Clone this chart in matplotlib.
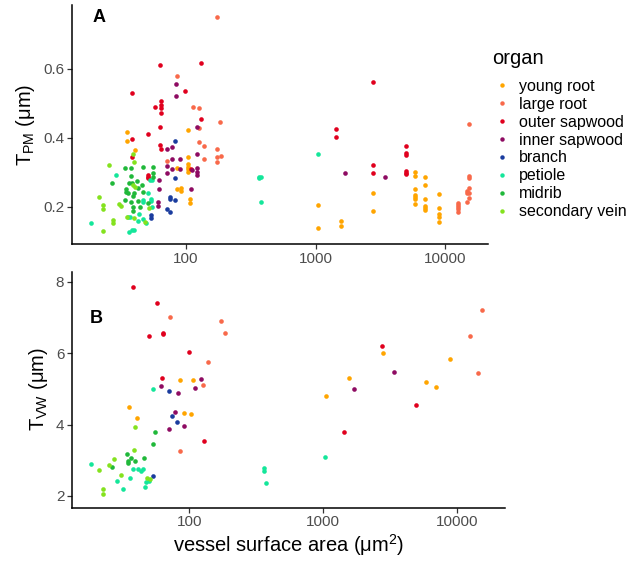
import matplotlib
matplotlib.use("Agg")
import matplotlib.pyplot as plt
from matplotlib.lines import Line2D
import numpy as np

plt.rcParams['font.family'] = ['Liberation Sans', 'DejaVu Sans']
plt.rcParams['mathtext.fontset'] = 'custom'
plt.rcParams['mathtext.rm'] = 'Liberation Sans'
plt.rcParams['mathtext.it'] = 'Liberation Sans:italic'

organs = ["young root", "large root", "outer sapwood", "inner sapwood",
          "branch", "petiole", "midrib", "secondary vein"]
colors = ["#FFA500", "#F8694A", "#E0001E", "#8E0B62",
          "#1A3C9E", "#14E69A", "#20B83A", "#84E21E"]

# ---- Panel A: T_PM (um) vs vessel surface area (um^2) ----
a_young_x = [35.2, 35.2, 40.6, 103.6, 103.6, 103.6, 103.6, 103.6, 103.6, 85.7, 85.7, 92.0, 92.0, 107.4, 107.4,
             1051, 1051, 1574, 1574, 2795, 2795, 5866, 5866, 6966, 6966, 5866, 5866, 5866, 5866, 5866,
             6966, 6966, 6966, 6966, 8932, 8932, 8932, 8932, 8932]
a_young_y = [0.415, 0.389, 0.364, 0.422, 0.345, 0.324, 0.316, 0.308, 0.301, 0.313, 0.251, 0.253, 0.246, 0.221, 0.210,
             0.205, 0.137, 0.158, 0.143, 0.241, 0.188, 0.300, 0.289, 0.285, 0.262, 0.251, 0.234, 0.227, 0.221, 0.207,
             0.222, 0.203, 0.197, 0.190, 0.238, 0.197, 0.178, 0.171, 0.157]

a_large_x = [172.6, 85.7, 112.7, 126.7, 184, 126.7, 126.7, 137.7, 172.6, 172.6, 185, 172.6, 137.7, 71.8,
             15410, 15410, 15410, 15410, 14720, 15410, 14720, 15410, 14720,
             12590, 12590, 12590, 12590, 12590]
a_large_y = [0.748, 0.578, 0.489, 0.485, 0.446, 0.429, 0.388, 0.376, 0.366, 0.345, 0.347, 0.330, 0.338, 0.332,
             0.439, 0.289, 0.284, 0.253, 0.245, 0.241, 0.241, 0.225, 0.214,
             0.212, 0.205, 0.199, 0.192, 0.186]

a_outer_x = [63.0, 130.6, 38.1, 98.8, 58.0, 64.5, 64.5, 64.5, 64.5, 130.6, 63.4, 50.6, 38.3, 63.0, 64.5, 38.3,
             50.6, 50.6, 50.6, 109.3, 1432, 1432, 2780, 2780, 2780, 5000, 5000, 5000, 5000, 5000, 5000]
a_outer_y = [0.609, 0.615, 0.530, 0.534, 0.489, 0.507, 0.495, 0.485, 0.472, 0.455, 0.431, 0.410, 0.397, 0.379, 0.367, 0.345,
             0.292, 0.286, 0.282, 0.308, 0.424, 0.403, 0.560, 0.322, 0.298, 0.375, 0.356, 0.350, 0.303, 0.298, 0.296]

a_inner_x = [83.8, 83.8, 121.6, 71.0, 77.6, 77.6, 90.4, 121.6, 71.0, 77.9, 71.0, 90.0, 121.6, 121.6, 121.6,
             111.3, 61.9, 61.5, 109.3, 61.1, 61.1, 1698, 3422]
a_inner_y = [0.554, 0.520, 0.432, 0.367, 0.372, 0.337, 0.337, 0.353, 0.318, 0.308, 0.297, 0.308, 0.311, 0.301, 0.292,
             0.306, 0.277, 0.250, 0.251, 0.214, 0.202, 0.298, 0.285]

a_branch_x = [82.2, 82.2, 75.2, 75.2, 82.2, 71.0, 75.2, 53.4, 53.4]
a_branch_y = [0.390, 0.284, 0.227, 0.221, 0.219, 0.193, 0.184, 0.176, 0.166]

a_petiole_x = [18.4, 28.8, 38.1, 39.7, 36.3, 43.1, 46.3, 49.1, 42.8, 46.8, 46.8, 53.4, 53.4, 51.2, 52.7, 54.6,
               35.8, 37.0, 54.6, 366, 377, 366, 377, 1051]
a_petiole_y = [0.154, 0.293, 0.133, 0.133, 0.126, 0.179, 0.164, 0.154, 0.159, 0.219, 0.214, 0.221, 0.216, 0.241, 0.277, 0.277,
               0.171, 0.171, 0.200, 0.287, 0.287, 0.282, 0.213, 0.353]

a_midrib_x = [26.7, 34.0, 37.4, 46.3, 55.3, 37.4, 41.5, 36.3, 38.1, 45.5, 42.8, 34.3, 34.3, 39.7, 35.5, 38.8,
              46.8, 55.9, 55.9, 34.0, 37.4, 42.3, 38.8, 38.8, 44.2, 51.2]
a_midrib_y = [0.268, 0.311, 0.311, 0.316, 0.316, 0.290, 0.274, 0.268, 0.268, 0.263, 0.253, 0.250, 0.243, 0.239, 0.239, 0.231,
              0.243, 0.297, 0.287, 0.219, 0.213, 0.216, 0.198, 0.188, 0.200, 0.210]

a_vein_x = [25.4, 38.8, 21.2, 22.7, 22.7, 27.5, 27.5, 22.9, 30.5, 31.5, 39.2, 40.4, 34.8, 39.7, 48.2, 39.7, 52.1]
a_vein_y = [0.321, 0.353, 0.227, 0.204, 0.192, 0.161, 0.154, 0.130, 0.208, 0.203, 0.263, 0.256, 0.171, 0.166, 0.157, 0.330, 0.195]

# ---- Panel B: T_VW (um) vs vessel surface area (um^2) ----
b_young_x = [84.8, 107.1, 35.2, 91.8, 103.5, 40.4, 2812, 8870, 1574, 5866, 6966, 1047]
b_young_y = [5.26, 5.26, 4.48, 4.33, 4.30, 4.19, 6.00, 5.83, 5.31, 5.18, 5.05, 4.79]

b_large_x = [71.3, 172.6, 184.9, 138.0, 126.0, 85.7, 15380, 12590, 14520]
b_large_y = [7.01, 6.89, 6.56, 5.75, 5.12, 3.26, 7.20, 6.47, 5.45]

b_outer_x = [38.1, 57.4, 63.3, 63.9, 50.2, 99.5, 62.8, 129.4, 2763, 4989, 1429]
b_outer_y = [7.85, 7.41, 6.56, 6.53, 6.49, 6.03, 5.31, 3.55, 6.19, 4.55, 3.78]

b_inner_x = [121.7, 109.7, 61.4, 82.8, 77.8, 90.8, 70.2, 3414, 1698]
b_inner_y = [5.27, 5.02, 5.07, 4.89, 4.34, 3.96, 3.87, 5.48, 5.01]

b_branch_x = [70.5, 74.6, 80.9, 53.2]
b_branch_y = [4.93, 4.24, 4.08, 2.55]

b_petiole_x = [53.5, 18.3, 37.7, 41.6, 43.3, 45.3, 36.0, 28.6, 47.5, 50.2, 32.1, 46.4, 1040, 362, 362, 373]
b_petiole_y = [5.00, 2.90, 2.76, 2.76, 2.71, 2.76, 2.51, 2.41, 2.38, 2.43, 2.20, 2.26, 3.10, 2.79, 2.70, 2.36]

b_midrib_x = [55.1, 53.2, 34.2, 36.5, 35.0, 39.1, 34.6, 46.1, 26.6]
b_midrib_y = [3.79, 3.46, 3.17, 3.06, 2.99, 2.97, 2.92, 3.07, 2.82]

b_vein_x = [39.5, 38.8, 27.3, 25.1, 21.2, 30.9, 48.0, 50.8, 22.6, 22.7]
b_vein_y = [3.93, 3.29, 3.04, 2.87, 2.72, 2.59, 2.51, 2.47, 2.19, 2.06]

panel_a = [(a_young_x, a_young_y), (a_large_x, a_large_y), (a_outer_x, a_outer_y), (a_inner_x, a_inner_y),
           (a_branch_x, a_branch_y), (a_petiole_x, a_petiole_y), (a_midrib_x, a_midrib_y), (a_vein_x, a_vein_y)]
panel_b = [(b_young_x, b_young_y), (b_large_x, b_large_y), (b_outer_x, b_outer_y), (b_inner_x, b_inner_y),
           (b_branch_x, b_branch_y), (b_petiole_x, b_petiole_y), (b_midrib_x, b_midrib_y), (b_vein_x, b_vein_y)]

xticks = [100, 1000, 10000]
xticklabels = ["100", "1000", "10000"]

W, H = 639, 566
fig = plt.figure(figsize=(W / 100, H / 100), dpi=100)

def px_axes(l, r, t, b):
    return fig.add_axes([l / W, 1 - b / H, (r - l) / W, (b - t) / H])

axA = px_axes(71.7, 488.3, 5, 244)
axB = px_axes(72, 505, 271.5, 507.7)

for ax, data in ((axA, panel_a), (axB, panel_b)):
    for (xs, ys), c in zip(data, colors):
        ax.scatter(xs, ys, s=11, color=c, linewidths=0, zorder=3)
    ax.set_xscale('log')
    ax.xaxis.set_major_locator(matplotlib.ticker.FixedLocator(xticks))
    ax.xaxis.set_minor_locator(matplotlib.ticker.NullLocator())
    ax.set_xticklabels(xticklabels)
    for s in ('top', 'right'):
        ax.spines[s].set_visible(False)
    for s in ('left', 'bottom'):
        ax.spines[s].set_linewidth(1.1)
        ax.spines[s].set_color('black')
    ax.tick_params(axis='both', length=3.5, width=0.9, color='#333333',
                   labelcolor='#4D4D4D', labelsize=11, pad=2)

axA.set_xlim(10 ** 1.117, 10 ** 4.334)
axA.set_ylim(0.092, 0.784)
axA.set_yticks([0.2, 0.4, 0.6])
axA.set_yticklabels(["0.2", "0.4", "0.6"])

axB.set_xlim(10 ** 1.123, 10 ** 4.361)
axB.set_ylim(1.67, 8.29)
axB.set_yticks([2, 4, 6, 8])
axB.set_yticklabels(["2", "4", "6", "8"])

axA.set_ylabel(r"T$_{\mathrm{PM}}$ (μm)", fontsize=14.5, labelpad=4)
axB.set_ylabel(r"T$_{\mathrm{VW}}$ (μm)", fontsize=14.5, labelpad=4)
axB.set_xlabel(r"vessel surface area (μm$^{2}$)", fontsize=14.5, labelpad=2)

axA.text((99.5 - 71.7) / (488.3 - 71.7), (244 - 17.5) / (244 - 5), "A", transform=axA.transAxes,
         fontsize=13, fontweight='bold', ha='center', va='center')
axB.text((96.7 - 72) / (505 - 72), (507.7 - 318) / (507.7 - 271.5), "B", transform=axB.transAxes,
         fontsize=13, fontweight='bold', ha='center', va='center')

# legend: title as text, entries as legend
fig.text(492.5 / W, 1 - 58 / H, "organ", fontsize=14.5, ha='left', va='center')
handles = [Line2D([0], [0], marker='o', linestyle='none', markersize=3.2,
                  markerfacecolor=c, markeredgewidth=0) for c in colors]
leg = fig.legend(handles, organs, loc='upper left', bbox_to_anchor=(494 / W, 1 - 79 / H),
                 frameon=False, fontsize=11.5, handlelength=1.0, handletextpad=0.55,
                 labelspacing=0.18, borderpad=0, borderaxespad=0)

fig.savefig("out.png", dpi=100)
